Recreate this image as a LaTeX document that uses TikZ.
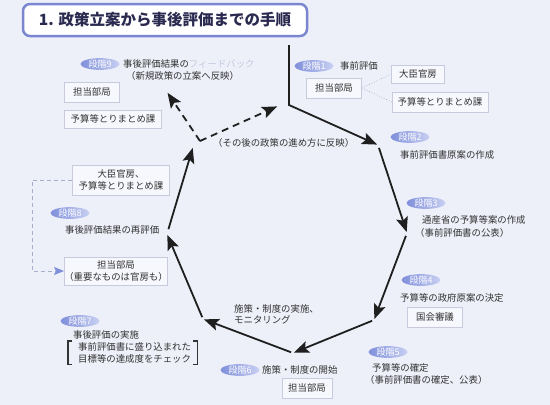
\documentclass[tikz,border=0pt]{standalone}
\usepackage{fontspec}
\setmainfont{Noto Sans CJK JP}
\usetikzlibrary{arrows.meta,shapes.geometric,calc}
\definecolor{bg}{HTML}{EEF0F9}
\definecolor{txtc}{HTML}{333333}
\definecolor{titlec}{HTML}{2A2A50}
\definecolor{titleb}{HTML}{7A86CF}
\definecolor{blobL}{HTML}{7F8FDA}
\definecolor{blobR}{HTML}{C8D0F2}
\definecolor{boxd}{HTML}{C8CBDD}
\definecolor{boxf}{HTML}{F7F8FD}
\definecolor{fadec}{HTML}{C4C8DE}
\definecolor{dotc}{HTML}{A8AECB}
\definecolor{arrb}{HTML}{7F8FDA}
\begin{document}
\begin{tikzpicture}[x=1pt,y=-1pt,
  txt/.style={font=\fontsize{9.4}{11.5}\selectfont, text=txtc, inner sep=0pt},
  blob/.style={ellipse, minimum width=39pt, minimum height=11.5pt, inner sep=0pt,
    left color=blobL, right color=blobR, text=white, font=\fontsize{9}{9}\selectfont},
  rbox/.style={draw=boxd, fill=boxf, line width=0.6pt, inner sep=0pt,
    font=\fontsize{9.4}{11.5}\selectfont, text=txtc, align=center},
  cyc/.style={line width=1.8pt, draw=black!88, line join=miter,
    -{Stealth[length=15pt,width=12pt,inset=3pt]}, shorten >=1pt},
  dcyc/.style={cyc, dash pattern=on 7pt off 5pt},
  dotconn/.style={draw=dotc, line width=0.7pt, dotted},
  dashconn/.style={draw=dotc, line width=0.8pt, dash pattern=on 4pt off 3pt,
    -{Stealth[length=10pt,width=8pt,inset=2pt,color=arrb]}},
  brk/.style={line width=1.2pt, draw=txtc}
]
\fill[bg] (0,0) rectangle (550,405);
\useasboundingbox (0,0) rectangle (550,405);

% title
\node[draw=titleb, line width=2.5pt, rounded corners=7pt, fill=white,
  minimum width=284pt, minimum height=32pt, inner sep=0pt, text=titlec,
  font=\fontsize{15.5}{18}\selectfont\bfseries] (title) at (165,20)
  {1. 政策立案から事後評価までの手順};

% cycle coordinates
\coordinate (p0) at (289,45);
\coordinate (p1) at (289,105);
\coordinate (p2) at (378,145);
\coordinate (p3) at (407,233);
\coordinate (p4) at (374,320);
\coordinate (p5) at (293,353);
\coordinate (p6) at (203,319);
\coordinate (p7) at (167,234);
\coordinate (p8) at (193,147);
\coordinate (j) at (200,141);
\coordinate (d1) at (167,92);
\coordinate (d2) at (278,106);

\draw[cyc] (p0) -- (p1) -- (p2);
\draw[cyc, shorten <=3pt] (p2) -- (p3);
\draw[cyc, shorten <=3pt] (p3) -- (p4);
\draw[cyc, shorten <=2pt] (p4) -- (p5);
\draw[cyc, shorten <=2pt] (p5) -- (p6);
\draw[cyc, shorten <=2pt] (p6) -- (p7);
\draw[cyc, shorten <=5pt] (p7) -- (p8);
\draw[dcyc] (j) -- (d1);
\draw[dcyc] (j) -- (d2);

% stage 1
\node[blob] (s1) at (314,66) {段階1};
\node[txt, anchor=west] (t1) at (340,66) {事前評価};
\node[rbox, minimum width=55pt, minimum height=20pt] (b1) at (334,88) {担当部局};
\node[rbox, minimum width=53pt, minimum height=18pt] (b1a) at (418,74) {大臣官房};
\node[rbox, minimum width=96pt, minimum height=20pt] (b1b) at (440,102) {予算等とりまとめ課};
\draw[dotconn] (b1.east) -- (b1a.west);
\draw[dotconn] (b1.east) -- (b1b.west);

% stage 2
\node[blob] (s2) at (410,137) {段階2};
\node[txt, anchor=west] (t2) at (400,155) {事前評価書原案の作成};

% stage 3
\node[blob] (s3) at (426,203) {段階3};
\node[txt, anchor=west] (t3) at (422,220) {通産省の予算等案の作成};
\node[txt, anchor=west] (t3b) at (415,233) {（事前評価書の公表）};

% stage 4
\node[blob] (s4) at (421,280) {段階4};
\node[txt, anchor=west] (t4) at (400,298) {予算等の政府原案の決定};
\node[rbox, minimum width=55pt, minimum height=20pt] (b4) at (435,317) {国会審議};

% stage 5
\node[blob] (s5) at (388,352) {段階5};
\node[txt, anchor=west] (t5) at (372,368) {予算等の確定};
\node[txt, anchor=west] (t5b) at (365,380) {（事前評価書の確定、公表）};

% stage 6
\node[blob] (s6) at (240,370) {段階6};
\node[txt, anchor=west] (t6) at (262,370) {施策・制度の開始};
\node[rbox, minimum width=50pt, minimum height=20pt] (b6) at (307,388) {担当部局};
\node[txt, anchor=north west, align=left] (m6) at (234,304) {施策・制度の実施、\\モニタリング};

% stage 7
\node[blob] (s7) at (80,321) {段階7};
\node[txt, anchor=west] (t7) at (73,335) {事後評価の実施};
\node[txt, anchor=north west, align=left, inner ysep=1.5pt] (t7b) at (78,341) {事前評価書に盛り込まれた\\目標等の達成度をチェック};
\draw[brk] ($(t7b.north west)+(-6,0)$) -- ($(t7b.north west)+(-10,0)$) -- ($(t7b.south west)+(-10,0)$) -- ($(t7b.south west)+(-6,0)$);
\draw[brk] ($(t7b.north east)+(2,0)$) -- ($(t7b.north east)+(6,0)$) -- ($(t7b.south east)+(6,0)$) -- ($(t7b.south east)+(2,0)$);

% stage 8
\node[blob] (s8) at (70,213) {段階8};
\node[txt, anchor=west] (t8) at (65,230) {事後評価結果の再評価};
\node[rbox, minimum width=97pt, minimum height=30pt] (b8a) at (121,180) {大臣官房、\\予算等とりまとめ課};
\node[rbox, minimum width=103pt, minimum height=28pt] (b8b) at (116,271) {担当部局\\（重要なものは官房も）};
\draw[dashconn] (b8a.west) -- ++(-40,0) |- (b8b.west);

% stage 9
\node[blob] (s9) at (100,64) {段階9};
\node[txt, anchor=west] (t9) at (123,64) {事後評価結果の\textcolor{fadec}{フィードバック}};
\node[txt, anchor=west] (t9b) at (126,76) {（新規政策の立案へ反映）};
\node[rbox, minimum width=55pt, minimum height=20pt] (b9a) at (92,92) {担当部局};
\node[rbox, minimum width=97pt, minimum height=18pt] (b9b) at (113,119) {予算等とりまとめ課};

% center note
\node[txt, anchor=west] (cn) at (213,143) {（その後の政策の進め方に反映）};
\end{tikzpicture}
\end{document}
